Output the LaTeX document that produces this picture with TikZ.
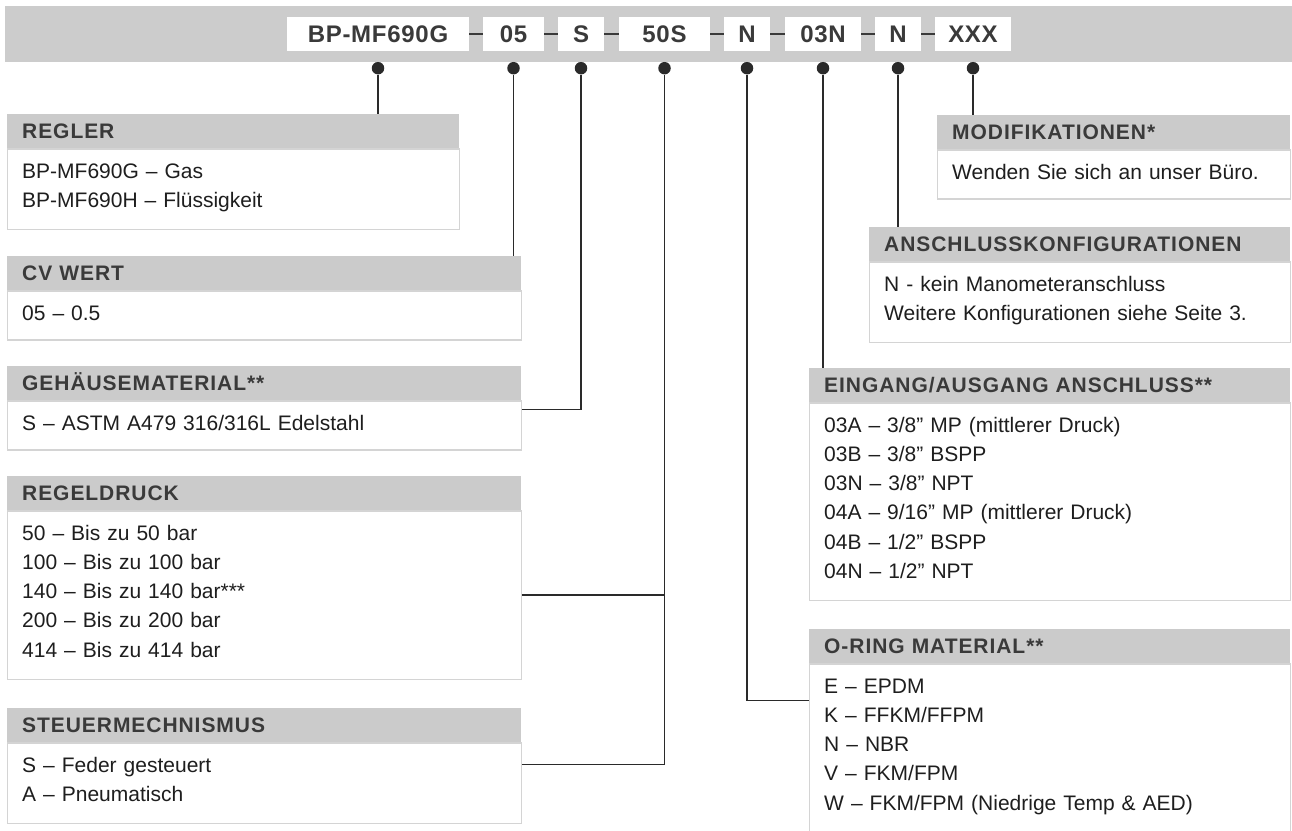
\documentclass[tikz,border=0pt]{standalone}
\usepackage{fontspec}
\setmainfont{Liberation Sans}
\newfontfamily\hdrfont{Liberation Sans}[LetterSpace=4.5]
\newfontfamily\codefont{Liberation Sans}[LetterSpace=3]
\usetikzlibrary{positioning}

\definecolor{bargray}{HTML}{CCCCCC}
\definecolor{hdrgray}{HTML}{CBCBCB}
\definecolor{rimgray}{HTML}{D4D4D4}
\definecolor{inkgray}{HTML}{3A3A3A}
\definecolor{bodyink}{HTML}{1E1E1E}
\definecolor{wiregray}{HTML}{2A2A2A}

\begin{document}
\begin{tikzpicture}[x=1pt, y=-1pt,
	code/.style={fill=white, minimum height=34pt, inner sep=0pt, text height=17.2pt, text depth=0pt,
		font=\codefont\fontsize{24}{24}\selectfont\bfseries, text=inkgray},
	hdr/.style={fill=hdrgray, anchor=north west, minimum height=34pt, inner xsep=15pt, inner ysep=0pt,
		text height=15pt, text depth=0pt, align=left, font=\hdrfont\fontsize{21}{24}\selectfont\bfseries, text=inkgray},
	body/.style={draw=rimgray, line width=1.3pt, fill=white, inner xsep=15pt, inner ysep=0pt,
		text height=29pt, align=left, font=\fontsize{21}{29.3}\selectfont, text=bodyink},
	dot/.style={circle, fill=wiregray, inner sep=0pt, minimum size=12.5pt},
	link/.style={draw=inkgray, line width=2.7pt},
	wire/.style={draw=wiregray, line width=1.5pt}]
	\useasboundingbox (0,0) rectangle (1292,830);

	% order code
	\node[fill=bargray, anchor=north west, inner sep=0pt, minimum width=1287pt, minimum height=56pt] (bar) at (5,6) {};
	\node[code, minimum width=182pt] (c1) at (378,34)   {BP-MF690G};
	\node[code, minimum width=61pt]  (c2) at (513.5,34) {05};
	\node[code, minimum width=46pt]  (c3) at (581,34)   {S};
	\node[code, minimum width=91pt]  (c4) at (664.5,34) {50S};
	\node[code, minimum width=46pt]  (c5) at (747,34)   {N};
	\node[code, minimum width=76pt]  (c6) at (823,34)   {03N};
	\node[code, minimum width=46pt]  (c7) at (898,34)   {N};
	\node[code, minimum width=76pt]  (c8) at (973,34)   {XXX};
	\foreach \from/\to in {c1/c2, c2/c3, c3/c4, c4/c5, c5/c6, c6/c7, c7/c8}
	\draw[link] (\from) -- (\to);
	\foreach \i in {1,...,8}
	\node[dot] (d\i) at ([yshift=-17pt]c\i.south) {};

	% left column
	\node[hdr, text width=422pt] (regH) at (7,114) {REGLER};
	\node[body, text width=422pt, text depth=51.3pt, below=0pt of regH] (regB)
		{BP-MF690G – Gas\\BP-MF690H – Flüssigkeit};
	\node[hdr, text width=484pt] (cvH) at (7,256) {CV WERT};
	\node[body, text width=484pt, text depth=20pt, below=0pt of cvH] (cvB) {05 – 0.5};
	\node[hdr, text width=484pt] (gehH) at (7,366) {GEHÄUSEMATERIAL**};
	\node[body, text width=484pt, text depth=20pt, below=0pt of gehH] (gehB)
		{S – ASTM A479 316/316L Edelstahl};
	\node[hdr, text width=484pt] (rdH) at (7,476) {REGELDRUCK};
	\node[body, text width=484pt, text depth=139.2pt, below=0pt of rdH] (rdB)
		{50 – Bis zu 50 bar\\100 – Bis zu 100 bar\\140 – Bis zu 140 bar***\\200 – Bis zu 200 bar\\414 – Bis zu 414 bar};
	\node[hdr, text width=484pt] (stH) at (7,708) {STEUERMECHNISMUS};
	\node[body, text width=484pt, text depth=51.3pt, below=0pt of stH] (stB)
		{S – Feder gesteuert\\A – Pneumatisch};

	% right column
	\node[hdr, text width=323pt] (moH) at (937,115) {MODIFIKATIONEN*};
	\node[body, text width=323pt, text depth=20pt, below=0pt of moH] (moB)
		{Wenden Sie sich an unser Büro.};
	\node[hdr, text width=391pt] (anH) at (869,227) {ANSCHLUSSKONFIGURATIONEN};
	\node[body, text width=391pt, text depth=51.3pt, below=0pt of anH] (anB)
		{N - kein Manometeranschluss\\Weitere Konfigurationen siehe Seite 3.};
	\node[hdr, text width=451pt] (eiH) at (809,368) {EINGANG/AUSGANG ANSCHLUSS**};
	\node[body, text width=451pt, text depth=168.5pt, below=0pt of eiH] (eiB)
		{03A – 3/8” MP (mittlerer Druck)\\03B – 3/8” BSPP\\03N – 3/8” NPT\\04A – 9/16” MP (mittlerer Druck)\\04B – 1/2” BSPP\\04N – 1/2” NPT};
	\node[hdr, text width=451pt] (orH) at (809,629) {O-RING MATERIAL**};
	\node[body, text width=451pt, text depth=190pt, below=0pt of orH] (orB)
		{E – EPDM\\K – FFKM/FFPM\\N – NBR\\V – FKM/FPM\\W – FKM/FPM (Niedrige Temp \& AED)};

	% connectors
	\draw[wire] (d1) -- (d1 |- regH.north);
	\draw[wire] (d2) -- (d2 |- cvH.north);
	\draw[wire] (d3) |- ([yshift=-9pt]gehB.north east);
	\draw[wire] (d4) |- ([yshift=-22pt]stB.north east);
	\draw[wire] (rdB.east) -- (rdB.east -| d4);
	\draw[wire] (d5) |- ([yshift=-37pt]orB.north west);
	\draw[wire] (d6) -- (d6 |- eiH.north);
	\draw[wire] (d7) -- (d7 |- anH.north);
	\draw[wire] (d8) -- (d8 |- moH.north);
\end{tikzpicture}
\end{document}
